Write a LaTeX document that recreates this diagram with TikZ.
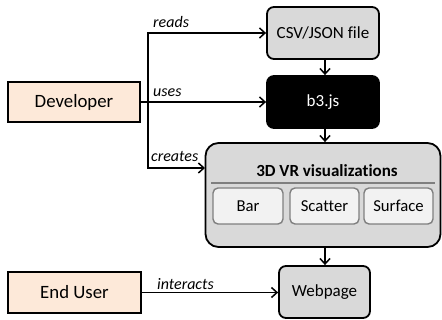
\documentclass[tikz,border=0pt]{standalone}
\usepackage{fontspec}
\setmainfont{Carlito}[Ligatures=NoCommon]
\usetikzlibrary{arrows.meta}
\definecolor{peach}{HTML}{FDE9D9}
\definecolor{boxgray}{HTML}{D9D9D9}
\definecolor{lightgray}{HTML}{F2F2F2}
\definecolor{midgray}{HTML}{7F7F7F}
\tikzset{
  actor/.style={draw=black, line width=1.8pt, fill=peach, minimum width=132pt, minimum height=40pt,
    inner sep=0pt, font=\fontsize{18.8}{22}\selectfont},
  proc/.style={draw=black, line width=1.8pt, fill=boxgray, rounded corners=7pt, inner sep=0pt,
    font=\fontsize{17}{20}\selectfont},
  kind/.style={draw=midgray, line width=1.4pt, fill=lightgray, rounded corners=5pt, inner sep=0pt,
    minimum width=69pt, minimum height=36pt, font=\fontsize{16.7}{20}\selectfont},
  verb/.style={inner sep=0pt, font=\fontsize{16}{19}\selectfont\itshape},
  arr/.style={line width=1.5pt, -{Straight Barb[length=5.5pt,width=10pt,line width=1.5pt]}},
}
\begin{document}
\begin{tikzpicture}[x=1pt, y=-1pt]
\useasboundingbox (0,0) rectangle (442,320);

% actors
\node[actor] (dev) at (74,102) {Developer};
\node[actor, minimum width=133pt, minimum height=41pt] (user) at (74.5,292.5) {End User};

% pipeline
\node[proc, minimum width=112pt, minimum height=52pt] (csv) at (323,33) {CSV/JSON file};
\node[proc, fill=black, text=white, minimum width=112pt, minimum height=52pt] (b3) at (323,102) {b3.js};
\node[proc, rounded corners=13pt, minimum width=235pt, minimum height=104pt] (viz) at (323,195) {};
\node[inner sep=0pt, anchor=base, font=\fontsize{17}{20}\selectfont\bfseries] (viztitle) at (327,177) {3D VR visualizations};
\draw[midgray, line width=1.5pt] (211,183) -- (435,183);
\node[kind, minimum width=70pt] (bar) at (248,206) {Bar};
\node[kind] (scatter) at (324.5,206) {Scatter};
\node[kind] (surface) at (398.5,206) {Surface};
\node[proc, minimum width=91pt, minimum height=52pt] (web) at (324.5,292) {Webpage};

% developer links
\coordinate (trunk) at (148,102);
\coordinate (vizin) at (205,168);
\draw[arr] (dev.east) -- (b3.west);
\draw[arr] (trunk) |- (csv.west);
\draw[arr] (trunk) |- (vizin);
\draw[arr] (csv.south -| 325,0) -- (b3.north -| 325,0);
\draw[arr] (b3.south -| 325,0) -- (viz.north -| 325,0);
\draw[arr] (viz.south -| 325,0) -- (web.north -| 325,0);
\draw[arr] (user.east) -- (web.west |- user.east);

% link labels
\node[verb, anchor=base west] (lreads) at (153,28) {reads};
\node[verb, anchor=base west] (luses) at (153,97) {uses};
\node[verb, anchor=base west] (lcreates) at (151,162) {creates};
\node[verb, anchor=base west] (linteracts) at (157,290) {interacts};
\end{tikzpicture}
\end{document}
